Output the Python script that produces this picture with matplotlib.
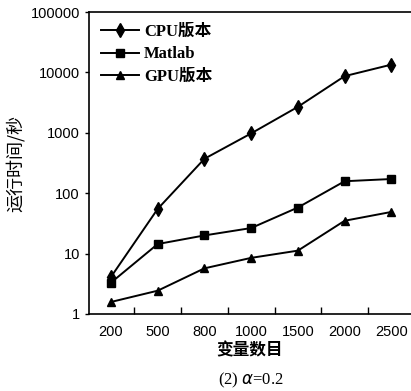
import matplotlib.pyplot as plt
import numpy as np

plt.rcParams['font.family'] = ['Liberation Sans', 'Noto Sans CJK SC']

categories = ['200', '500', '800', '1000', '1500', '2000', '2500']
cpu_times = [4.1, 55, 372, 980, 2700, 8700, 13500]
matlab_times = [3.3, 14.4, 20, 26.5, 58, 158, 172]
gpu_times = [1.58, 2.43, 5.7, 8.5, 11.2, 35, 49]
y_ticks = [1, 10, 100, 1000, 10000, 100000]

fig = plt.figure(figsize=(4.11, 3.91), dpi=100)
ax = fig.add_axes([0.2165, 0.197, 0.7835, 0.772])

x = np.arange(len(categories))
ax.plot(x, cpu_times, color='black', lw=1.4, marker='d', ms=7, label='CPU版本')
ax.plot(x, matlab_times, color='black', lw=1.4, marker='s', ms=6, label='Matlab')
ax.plot(x, gpu_times, color='black', lw=1.4, marker='^', ms=6, label='GPU版本')

ax.set_yscale('log')
ax.set_ylim(1, 100000)
ax.set_yticks(y_ticks)
ax.set_yticklabels([str(v) for v in y_ticks])
ax.minorticks_off()
ax.set_xlim(-0.47, 6.42)
ax.set_xticks(x)
ax.set_xticklabels(categories)
ax.set_xticks(x[:-1] + 0.5, minor=True)
ax.tick_params(axis='x', which='major', length=0, labelsize=10.5, pad=8)
ax.tick_params(axis='x', which='minor', direction='in', length=5, width=1)
ax.tick_params(axis='y', which='major', direction='out', length=3, width=1, labelsize=10.5)
ax.spines['right'].set_visible(False)
for s in ['left', 'top', 'bottom']:
    ax.spines[s].set_linewidth(1.2)

ax.set_ylabel('运行时间/秒', family=['Noto Sans CJK SC'], fontsize=13, labelpad=4)
ax.set_xlabel('变量数目', family=['Noto Sans CJK SC'], fontsize=12, fontweight='bold', labelpad=2)
fig.text(0.61, 0.028, r'(2) $\alpha$=0.2', family=['Liberation Serif'], fontsize=12,
         ha='center', va='center')

ax.legend(loc='upper left', frameon=False,
          prop={'family': ['Liberation Serif', 'Noto Sans CJK SC'], 'size': 12, 'weight': 'bold'},
          handlelength=2.3, handletextpad=0.3, labelspacing=0.4, borderaxespad=0.3)

fig.savefig('out.png', dpi=100)
